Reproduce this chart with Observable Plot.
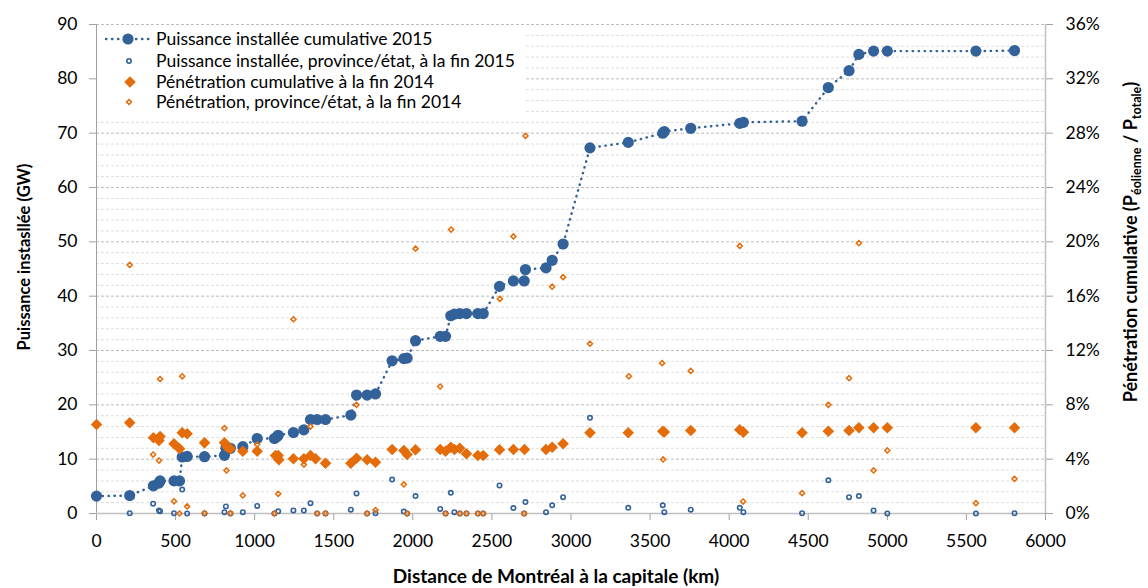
<!DOCTYPE html>
<html><head><meta charset="utf-8">
<script src="https://cdn.jsdelivr.net/npm/d3@7"></script>
<script src="https://cdn.jsdelivr.net/npm/@observablehq/plot@0.6"></script>
<style>
html,body{margin:0;padding:0;background:#fff;}
svg{display:block;}
</style></head>
<body>
<script>
// ---- Data ----
// Cumulative installed power 2015 (GW) vs distance (km)
const cumDist = [0,210,360,395,402,490,525,542,573,683,809,818,847,925,1016,1125,1140,1149,1245,1311,1353,1395,1448,1608,1644,1711,1764,1869,1943,1964,2017,2173,2207,2240,2263,2297,2339,2411,2445,2548,2636,2704,2712,2842,2881,2950,3120,3362,3580,3590,3757,4067,4090,4461,4627,4758,4820,4913,5000,5560,5804];
const cumGW   = [3.2,3.3,5.1,5.6,6.0,6.0,6.0,10.4,10.5,10.45,10.7,12.0,12.0,12.3,13.8,13.8,14.1,14.4,14.9,15.4,17.3,17.3,17.3,18.1,21.8,21.8,22.0,28.1,28.5,28.6,31.8,32.6,32.6,36.4,36.7,36.8,36.8,36.8,36.8,41.8,42.8,42.8,44.9,45.2,46.6,49.6,67.3,68.3,70.0,70.3,70.9,71.8,72.0,72.2,78.4,81.5,84.5,85.1,85.1,85.1,85.2];

// Installed power per province/state, end 2015 (GW)
const stDist = [0,210,358,395,402,490,542,573,683,809,818,847,925,1016,1125,1149,1245,1311,1353,1395,1448,1608,1644,1711,1764,1869,1943,1964,2017,2173,2207,2240,2263,2297,2339,2411,2445,2548,2636,2704,2712,2842,2881,2950,3120,3362,3580,3590,3757,4067,4090,4461,4627,4758,4820,4913,5000,5560,5804];
const stGW   = [3.2,0.05,1.8,0.55,0.4,0.05,4.4,0,0,0.25,1.3,0,0.25,1.4,0,0.4,0.55,0.55,1.9,0,0,0.7,3.7,0,0.05,6.25,0.35,0,3.2,0.85,0,3.8,0.25,0,0,0,0,5.15,1.0,0,2.1,0.25,1.5,3.0,17.6,1.05,1.5,0.25,0.7,1.05,0.25,0.05,6.1,3.0,3.2,0.55,0,0,0.05];

// Cumulative penetration, end 2014 (%)
const pcDist = [0,210,360,395,402,490,525,542,573,683,809,826,847,925,1016,1132,1149,1153,1245,1311,1353,1385,1448,1608,1644,1711,1764,1869,1943,1964,2017,2173,2207,2240,2263,2297,2339,2411,2445,2548,2636,2706,2842,2881,2950,3120,3362,3580,3590,3757,4067,4090,4461,4627,4758,4820,4913,5000,5560,5804];
const pcPct  = [6.55,6.68,5.57,5.38,5.67,5.13,4.76,5.94,5.87,5.2,5.2,4.88,4.76,4.59,4.59,4.27,4.27,3.95,4.03,4.03,4.27,4.03,3.70,3.70,4.07,3.95,3.78,4.71,4.64,4.34,4.69,4.71,4.59,4.88,4.71,4.81,4.40,4.27,4.27,4.69,4.71,4.71,4.71,4.88,5.13,5.94,5.94,6.06,6.0,6.11,6.16,5.99,5.94,6.06,6.11,6.31,6.31,6.31,6.31,6.31];

// Penetration per province/state, end 2014 (%)
const psDist = [210,358,395,402,490,525,542,573,683,809,822,847,925,1016,1125,1149,1245,1311,1353,1395,1448,1644,1711,1764,1943,1964,2017,2173,2207,2242,2297,2339,2411,2445,2550,2636,2704,2712,2881,2950,3120,3366,3576,3582,3757,4067,4088,4461,4627,4758,4820,4913,5000,5560,5804];
const psPct  = [18.3,4.34,3.9,9.9,0.9,0,10.1,0.52,0.02,6.28,3.17,0.02,1.33,5.08,0,1.45,14.3,3.6,6.4,0,0,8.0,0,0.25,2.14,0,19.5,9.35,0,20.9,0,0,0,0,15.8,20.4,0,27.8,16.7,17.4,12.5,10.1,11.07,3.98,10.5,19.7,0.88,1.5,8.0,9.96,19.9,3.17,4.64,0.76,2.55];

const xTicks = [0,500,1000,1500,2000,2500,3000,3500,4000,4500,5000,5500,6000];
const yTicks = [0,10,20,30,40,50,60,70,80,90];
const pctTicks = [0,4,8,12,16,20,24,28,32,36];
const legendLabels = [
  "Puissance installée cumulative 2015",
  "Puissance installée, province/état, à la fin 2015",
  "Pénétration cumulative à la fin 2014",
  "Pénétration, province/état, à la fin 2014"
];

// ---- Build tables ----
const PCT2GW = 90/36;
const cum = cumDist.map((d,i)=>({d, v: cumGW[i]}));
const st = stDist.map((d,i)=>({d, v: stGW[i]}));
const pc = pcDist.map((d,i)=>({d, v: pcPct[i]*PCT2GW}));
const ps = psDist.map((d,i)=>({d, v: psPct[i]*PCT2GW}));
const minor = d3.range(2, 90, 2).filter(v => v % 10 !== 0);

const BLUE = "#33619A";
const ORANGE = "#E46C0A";
const FONT = "Lato, 'Open Sans', sans-serif";

const svg = Plot.plot({
  width: 1148, height: 588,
  marginLeft: 96, marginRight: 103, marginTop: 24, marginBottom: 75,
  x: {domain: [0, 6000]},
  y: {domain: [0, 90]},
  style: {fontFamily: FONT, fontSize: "17px", color: "#000", background: "#fff", overflow: "visible"},
  marks: [
    Plot.ruleY(minor, {stroke: "#dedede", strokeDasharray: "3,2"}),
    Plot.ruleY(yTicks.filter(v => v > 0), {stroke: "#bdbdbd", strokeDasharray: "3,2"}),
    Plot.axisY({anchor: "left", ticks: yTicks, tickSize: 7, tickPadding: 12, label: null, stroke: "#a0a0a0", fill: "#000", fontSize: 17.5}),
    Plot.axisY({anchor: "right", ticks: pctTicks.map(p => p*PCT2GW), tickFormat: v => Math.round(v/PCT2GW) + "%", tickSize: 7, tickPadding: 13, label: null, stroke: "#a0a0a0", fill: "#000", fontSize: 17.5}),
    Plot.axisX({ticks: xTicks, tickFormat: d => String(d), tickSize: 7, tickPadding: 14, label: null, stroke: "#a0a0a0", fill: "#000", fontSize: 17.5}),
    Plot.ruleX([0], {stroke: "#a0a0a0"}),
    Plot.ruleX([6000], {stroke: "#c0c0c0", strokeWidth: 1.5}),
    Plot.ruleY([0], {stroke: "#bfbfbf", strokeWidth: 1.5}),
    Plot.line(cum, {x: "d", y: "v", stroke: BLUE, strokeWidth: 2.4, strokeDasharray: "0.4,5.6", strokeLinecap: "round"}),
    Plot.dot(cum, {x: "d", y: "v", r: 5.6, fill: BLUE, stroke: "none"}),
    Plot.dot(pc, {x: "d", y: "v", r: 5.2, symbol: d3.symbolDiamond2, fill: ORANGE, stroke: "none"}),
    Plot.dot(st, {x: "d", y: "v", r: 2.2, fill: "none", stroke: BLUE, strokeWidth: 1.6}),
    Plot.dot(ps, {x: "d", y: "v", r: 2.3, symbol: d3.symbolDiamond2, fill: "none", stroke: ORANGE, strokeWidth: 1.5})
  ]
});
document.body.appendChild(svg);

// ---- Titles & legend ----
const s = d3.select(svg);
s.append("text")
  .attr("transform", "translate(30,257) rotate(-90)")
  .attr("text-anchor", "middle")
  .attr("font-family", FONT).attr("font-size", 16.5).attr("font-weight", "bold")
  .text("Puissance instasllée (GW)");
s.append("text")
  .attr("x", 556).attr("y", 583)
  .attr("text-anchor", "middle")
  .attr("font-family", FONT).attr("font-size", 19).attr("font-weight", "bold")
  .text("Distance de Montréal à la capitale (km)");
const rt = s.append("text")
  .attr("transform", "translate(1137,242) rotate(-90)")
  .attr("text-anchor", "middle")
  .attr("font-family", FONT).attr("font-size", 18).attr("font-weight", "bold");
rt.append("tspan").text("Pénétration cumulative (P");
rt.append("tspan").attr("font-size", 12.5).attr("dy", 3.5).text("éolienne");
rt.append("tspan").attr("dy", -3.5).text(" / P");
rt.append("tspan").attr("font-size", 12.5).attr("dy", 3.5).text("totale");
rt.append("tspan").attr("dy", -3.5).text(")");

const lg = s.append("g");
lg.append("rect").attr("x", 97).attr("y", 26).attr("width", 428).attr("height", 92).attr("fill", "#ffffff").attr("stroke", "none");
const rows = [39, 61, 82, 102];
lg.append("line").attr("x1", 106).attr("x2", 150).attr("y1", rows[0]).attr("y2", rows[0])
  .attr("stroke", BLUE).attr("stroke-width", 2.4).attr("stroke-dasharray", "0.4,5.6").attr("stroke-linecap", "round");
lg.append("circle").attr("cx", 128).attr("cy", rows[0]).attr("r", 5.6).attr("fill", BLUE);
lg.append("circle").attr("cx", 129).attr("cy", rows[1]).attr("r", 2.2).attr("fill", "none").attr("stroke", BLUE).attr("stroke-width", 1.6);
lg.append("path").attr("transform", `translate(130,${rows[2]})`).attr("d", d3.symbol(d3.symbolDiamond2, Math.PI*5.2*5.2)()).attr("fill", ORANGE);
lg.append("path").attr("transform", `translate(129,${rows[3]})`).attr("d", d3.symbol(d3.symbolDiamond2, Math.PI*2.3*2.3)()).attr("fill", "none").attr("stroke", ORANGE).attr("stroke-width", 1.5);
legendLabels.forEach((t, i) => {
  lg.append("text").attr("x", 156).attr("y", rows[i]).attr("dy", "0.35em")
    .attr("text-anchor", "start")
    .attr("font-family", FONT).attr("font-size", 17.5).attr("fill", "#000").text(t);
});
</script>
</body></html>
